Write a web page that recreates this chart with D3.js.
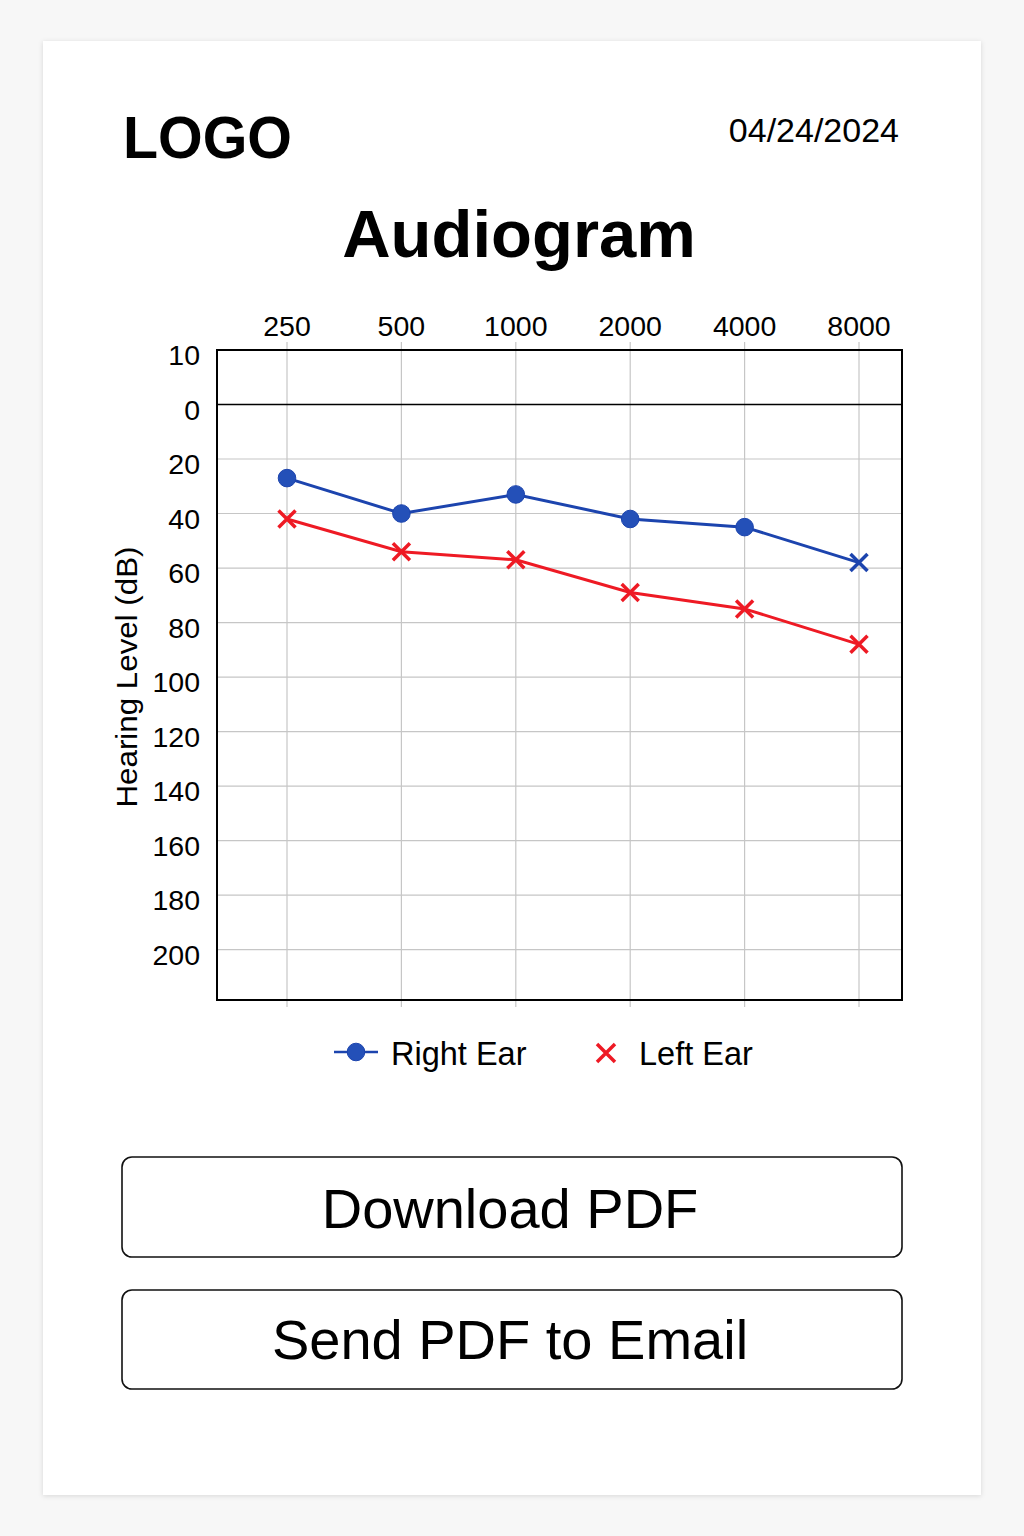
<!DOCTYPE html>
<html>
<head>
<meta charset="utf-8">
<script src="https://cdn.jsdelivr.net/npm/d3@7"></script>
<style>
  html, body { margin: 0; padding: 0; background: #f7f7f7; }
  svg { display: block; }
  text { font-family: "Liberation Sans", Arial, Helvetica, sans-serif; fill: #000; }
</style>
</head>
<body>
<svg id="chart" width="1024" height="1536"></svg>
<script>
// ---- data ----
const frequencies = ["250", "500", "1000", "2000", "4000", "8000"];
const rightEar = [27, 40, 33, 42, 45, 58];
const rightMarkers = ["circle", "circle", "circle", "circle", "circle", "cross"];
const leftEar = [42, 54, 57, 69, 75, 88];
const yTickValues = [-20, 0, 20, 40, 60, 80, 100, 120, 140, 160, 180, 200];
const yTickLabels = ["10", "0", "20", "40", "60", "80", "100", "120", "140", "160", "180", "200"];
const seriesNames = ["Right Ear", "Left Ear"];

// ---- layout ----
const plot = { left: 217, right: 902, top: 350, bottom: 1000 };
const BLUE = "#1c44ae", BLUE_FILL = "#2450b8", RED = "#ee1a24";

const svg = d3.select("#chart");
const defs = svg.append("defs");
const f = defs.append("filter").attr("id", "shadow").attr("x", "-5%").attr("y", "-5%").attr("width", "110%").attr("height", "110%");
f.append("feDropShadow").attr("dx", 0).attr("dy", 1).attr("stdDeviation", 2.5).attr("flood-color", "#000").attr("flood-opacity", 0.13);

// card
svg.append("rect").attr("x", 43).attr("y", 41).attr("width", 938).attr("height", 1454)
  .attr("fill", "#fff").attr("filter", "url(#shadow)");

// header
svg.append("text").attr("x", 123).attr("y", 158).attr("font-size", 59).attr("font-weight", "bold")
  .attr("textLength", 169).attr("lengthAdjust", "spacingAndGlyphs").text("LOGO");
svg.append("text").attr("x", 899).attr("y", 142).attr("font-size", 34).attr("text-anchor", "end")
  .text("04/24/2024");
svg.append("text").attr("x", 519).attr("y", 257).attr("font-size", 67).attr("font-weight", "bold")
  .attr("text-anchor", "middle").text("Audiogram");

// scales
const x = d3.scalePoint().domain(frequencies).range([plot.left + 70, plot.right - 43]);
const y = d3.scaleLinear().domain([-20, 218.5]).range([plot.top, plot.bottom]);

const g = svg.append("g");

// horizontal grid
g.selectAll("line.hgrid").data(yTickValues.filter(v => v > 0)).join("line")
  .attr("class", "hgrid")
  .attr("x1", plot.left).attr("x2", plot.right)
  .attr("y1", d => y(d)).attr("y2", d => y(d))
  .attr("stroke", "#c6c6c6").attr("stroke-width", 1.2);

// vertical grid
g.selectAll("line.vgrid").data(frequencies).join("line")
  .attr("class", "vgrid")
  .attr("x1", d => x(d)).attr("x2", d => x(d))
  .attr("y1", plot.top - 8).attr("y2", plot.bottom + 7)
  .attr("stroke", "#c6c6c6").attr("stroke-width", 1.2);

// zero line
g.append("line").attr("x1", plot.left).attr("x2", plot.right)
  .attr("y1", y(0)).attr("y2", y(0)).attr("stroke", "#000").attr("stroke-width", 1.5);

// frame
g.append("rect").attr("x", plot.left).attr("y", plot.top)
  .attr("width", plot.right - plot.left).attr("height", plot.bottom - plot.top)
  .attr("fill", "none").attr("stroke", "#000").attr("stroke-width", 2);

// x tick labels (top)
g.selectAll("text.xt").data(frequencies).join("text")
  .attr("class", "xt").attr("x", d => x(d)).attr("y", plot.top - 14)
  .attr("text-anchor", "middle").attr("font-size", 28.5).text(d => d);

// y tick labels
g.selectAll("text.yt").data(yTickValues).join("text")
  .attr("class", "yt").attr("x", plot.left - 17).attr("y", d => y(d) + 15)
  .attr("text-anchor", "end").attr("font-size", 28.5).text((d, i) => yTickLabels[i]);

// y axis title
g.append("text").attr("transform", `translate(137, ${(plot.top + plot.bottom) / 2 + 2}) rotate(-90)`)
  .attr("text-anchor", "middle").attr("font-size", 29)
  .attr("textLength", 261).attr("lengthAdjust", "spacingAndGlyphs")
  .text("Hearing Level (dB)");

// lines
const line = d3.line().x(d => x(d.f)).y(d => y(d.v));
const rightData = frequencies.map((f, i) => ({ f, v: rightEar[i], m: rightMarkers[i] }));
const leftData = frequencies.map((f, i) => ({ f, v: leftEar[i] }));

g.append("path").datum(rightData).attr("d", line).attr("fill", "none")
  .attr("stroke", BLUE).attr("stroke-width", 3);
g.append("path").datum(leftData).attr("d", line).attr("fill", "none")
  .attr("stroke", RED).attr("stroke-width", 3);

function cross(sel, cx, cy, r, color, w) {
  sel.append("path")
    .attr("d", `M${cx - r},${cy - r}L${cx + r},${cy + r}M${cx - r},${cy + r}L${cx + r},${cy - r}`)
    .attr("stroke", color).attr("stroke-width", w).attr("fill", "none");
}

rightData.forEach(d => {
  if (d.m === "circle") {
    g.append("circle").attr("cx", x(d.f)).attr("cy", y(d.v)).attr("r", 8.8)
      .attr("fill", BLUE_FILL).attr("stroke", BLUE).attr("stroke-width", 1);
  } else {
    cross(g, x(d.f), y(d.v), 8.5, BLUE, 3.5);
  }
});
leftData.forEach(d => cross(g, x(d.f), y(d.v), 8.5, RED, 3.5));

// legend
const lg = svg.append("g");
lg.append("line").attr("x1", 334).attr("x2", 378).attr("y1", 1052).attr("y2", 1052)
  .attr("stroke", BLUE).attr("stroke-width", 2.5);
lg.append("circle").attr("cx", 356).attr("cy", 1052).attr("r", 8.8)
  .attr("fill", BLUE_FILL).attr("stroke", BLUE).attr("stroke-width", 1);
lg.append("text").attr("x", 391).attr("y", 1065).attr("font-size", 32.5).text(seriesNames[0]);
cross(lg, 606, 1053, 9, RED, 3.5);
lg.append("text").attr("x", 639).attr("y", 1065).attr("font-size", 32.5).text(seriesNames[1]);

// buttons
const buttons = [
  { label: "Download PDF", y: 1157, h: 100, base: 1228 },
  { label: "Send PDF to Email", y: 1290, h: 99, base: 1359 }
];
buttons.forEach(b => {
  svg.append("rect").attr("x", 122).attr("y", b.y).attr("width", 780).attr("height", b.h)
    .attr("rx", 10).attr("fill", "#fff").attr("stroke", "#111").attr("stroke-width", 1.6);
  svg.append("text").attr("x", 510).attr("y", b.base).attr("text-anchor", "middle")
    .attr("font-size", 56).text(b.label);
});
</script>
</body>
</html>
